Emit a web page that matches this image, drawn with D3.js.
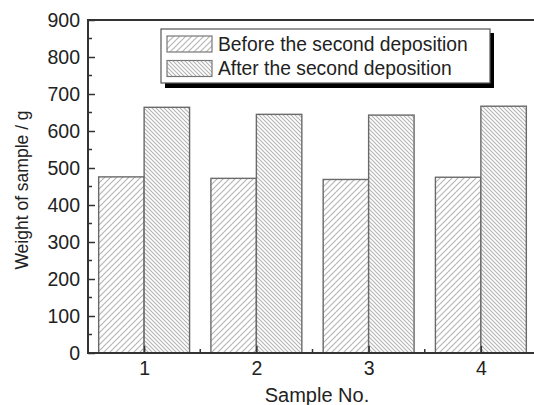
<!DOCTYPE html>
<html><head><meta charset="utf-8">
<script src="https://cdn.jsdelivr.net/npm/d3@7"></script>
<style>body{margin:0;background:#fff}svg{display:block}text{font-family:"Liberation Sans",Arial,sans-serif;fill:#222}</style>
</head><body><svg id="c" width="534" height="405"></svg>
<script>
const categories = [1, 2, 3, 4];
const seriesNames = ["Before the second deposition", "After the second deposition"];
const before = [476, 472, 469, 475];
const after = [664, 645, 643, 667];
const yTicks = [0, 100, 200, 300, 400, 500, 600, 700, 800, 900];

const svg = d3.select("#c");
const m = {l: 88, t: 20, r: 537, b: 353};
const x = d3.scaleLinear().domain([0.5, 4.5]).range([m.l, m.r]);
const y = d3.scaleLinear().domain([0, 900]).range([m.b, m.t]);

const defs = svg.append("defs");
function hatch(id, dir, sp) {
  const p = defs.append("pattern").attr("id", id).attr("patternUnits", "userSpaceOnUse")
    .attr("width", sp).attr("height", sp);
  p.append("rect").attr("width", sp).attr("height", sp).attr("fill", "#fff");
  const d = dir > 0
    ? `M${-sp},${sp} L${sp},${-sp} M0,${sp*2} L${sp*2},0 M${-sp/2},${sp*1.5} L${sp*1.5},${-sp/2}`
    : `M${-sp},0 L${sp},${sp*2} M0,${-sp} L${sp*2},${sp}`;
  p.append("path").attr("d", dir > 0 ? `M0,${sp} L${sp},0 M${-1},1 L1,${-1} M${sp-1},${sp+1} L${sp+1},${sp-1}`
                                     : `M0,0 L${sp},${sp} M${sp-1},-1 L${sp+1},1 M-1,${sp-1} L1,${sp+1}`)
    .attr("stroke", "#b4b4b4").attr("stroke-width", 1.1).attr("fill", "none");
}
hatch("h1", 1, 6);
hatch("h2", -1, 4);

const bw = (x(2) - x(1)) * 0.405;
const data = categories.map((c, i) => ({c, v: [before[i], after[i]]}));
const g = svg.append("g");
data.forEach(d => {
  d.v.forEach((v, k) => {
    const x0 = k === 0 ? x(d.c) - bw : x(d.c);
    g.append("rect").attr("x", x0).attr("y", y(v)).attr("width", bw).attr("height", y(0) - y(v))
      .attr("fill", `url(#h${k+1})`).attr("stroke", "#6a6a6a").attr("stroke-width", 1.4);
  });
});

// frame
svg.append("rect").attr("x", m.l).attr("y", m.t).attr("width", m.r - m.l).attr("height", m.b - m.t)
  .attr("fill", "none").attr("stroke", "#333").attr("stroke-width", 2);

// y axis
const yAxis = d3.axisLeft(y).tickValues(yTicks).tickSize(-7).tickPadding(8).tickFormat(d3.format("d"));
const ya = svg.append("g").attr("transform", `translate(${m.l},0)`).call(yAxis);
ya.select(".domain").remove();
ya.selectAll("line").attr("stroke", "#333").attr("stroke-width", 1.5);
ya.selectAll("text").style("font-size", "19.5px").attr("fill", "#222");
const yMinor = d3.range(50, 900, 100);
svg.append("g").selectAll("line").data(yMinor).join("line")
  .attr("x1", m.l).attr("x2", m.l + 4).attr("y1", d => y(d)).attr("y2", d => y(d))
  .attr("stroke", "#333").attr("stroke-width", 1.5);

// x axis
const xAxis = d3.axisBottom(x).tickValues(categories).tickSize(-7).tickPadding(8).tickFormat(d3.format("d"));
const xa = svg.append("g").attr("transform", `translate(0,${m.b})`).call(xAxis);
xa.select(".domain").remove();
xa.selectAll("line").attr("stroke", "#333").attr("stroke-width", 1.5);
xa.selectAll("text").style("font-size", "19.5px").attr("fill", "#222");
const xMinor = [1.5, 2.5, 3.5];
svg.append("g").selectAll("line").data(xMinor).join("line")
  .attr("x1", d => x(d)).attr("x2", d => x(d)).attr("y1", m.b).attr("y2", m.b - 4)
  .attr("stroke", "#333").attr("stroke-width", 1.5);

// axis titles
svg.append("text").attr("x", 317).attr("y", 402).attr("text-anchor", "middle")
  .style("font-size", "20px").text("Sample No.");
svg.append("text").attr("transform", `translate(28,190) rotate(-90)`)
  .attr("text-anchor", "middle").style("font-size", "17.5px").text("Weight of sample / g");

// legend
const lg = svg.append("g");
lg.append("rect").attr("x", 165).attr("y", 33).attr("width", 329).attr("height", 55).attr("fill", "#000");
lg.append("rect").attr("x", 161).attr("y", 29).attr("width", 329).attr("height", 54)
  .attr("fill", "#fff").attr("stroke", "#555").attr("stroke-width", 1.2);
seriesNames.forEach((s, k) => {
  const yy = 36 + k * 24.5;
  lg.append("rect").attr("x", 167).attr("y", yy).attr("width", 45).attr("height", 16)
    .attr("fill", `url(#h${k+1})`).attr("stroke", "#777").attr("stroke-width", 1.2);
  lg.append("text").attr("x", 218).attr("y", yy + 14.5).style("font-size", "19.3px").text(s);
});
</script></body></html>
